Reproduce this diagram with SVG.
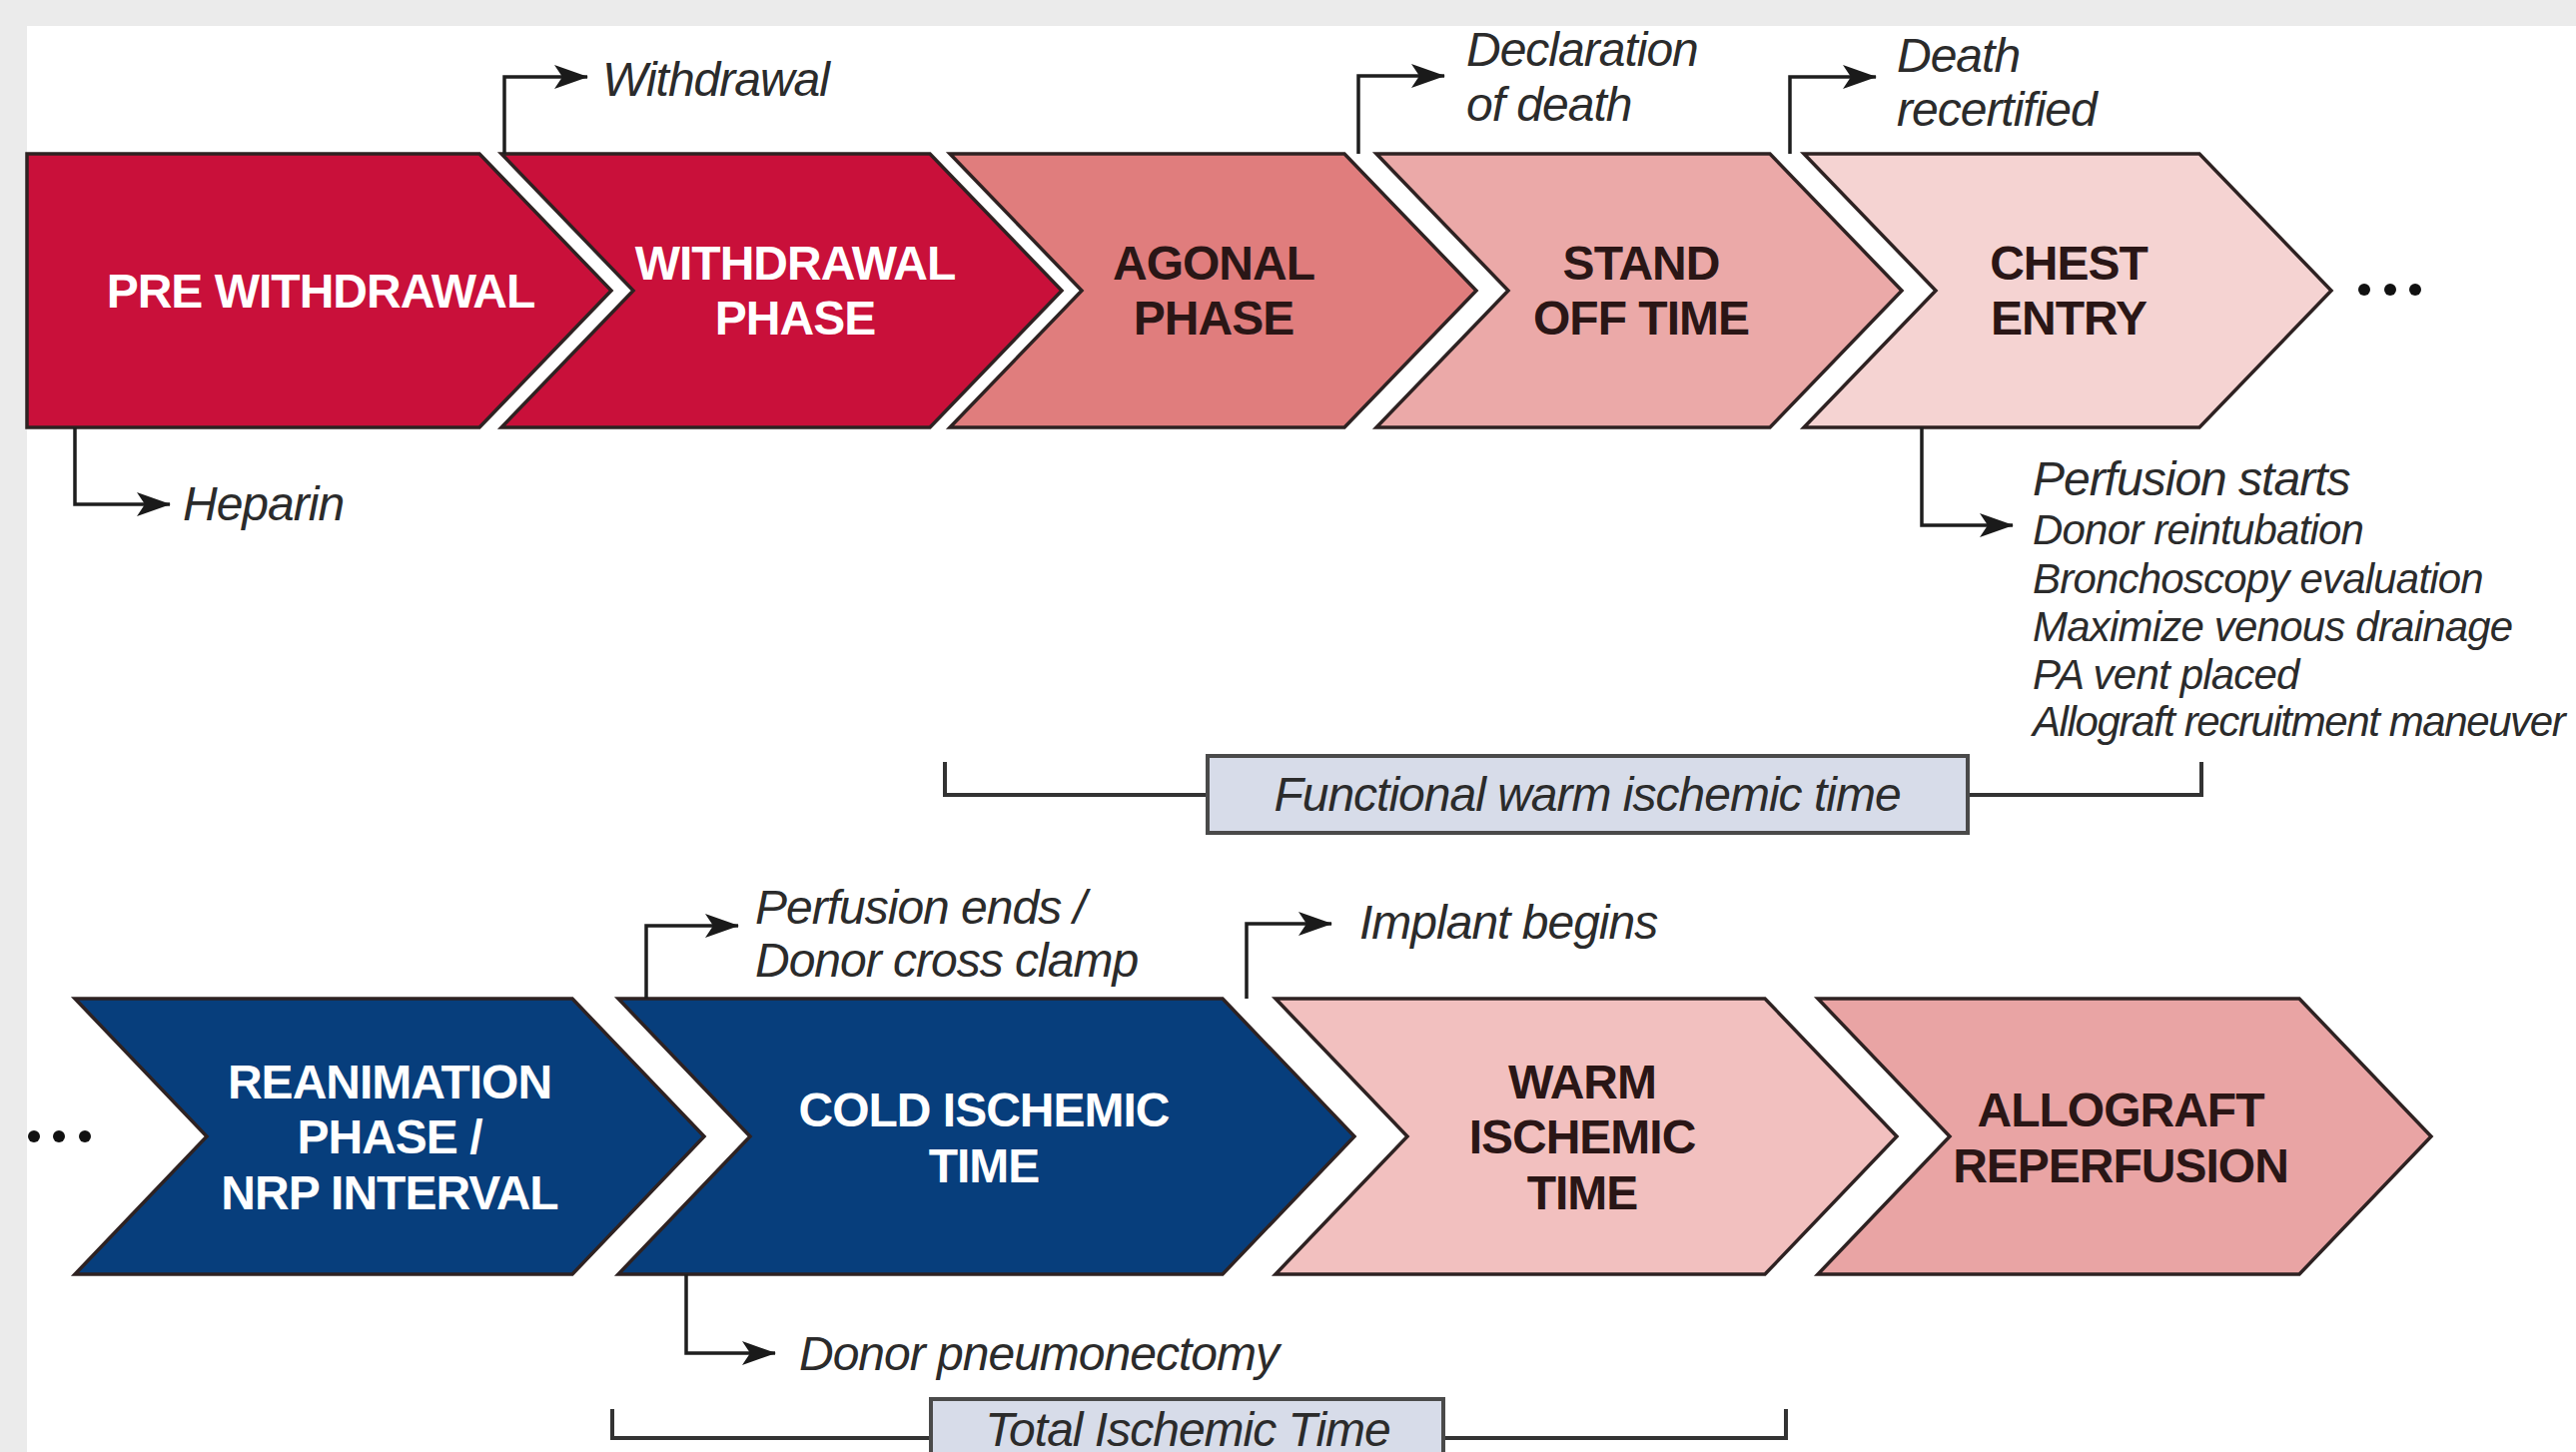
<svg xmlns="http://www.w3.org/2000/svg" width="2579" height="1454" viewBox="0 0 2579 1454">
<defs>
<marker id="arr" viewBox="0 0 34 24" refX="33" refY="12" markerWidth="34" markerHeight="24" markerUnits="userSpaceOnUse" orient="auto">
<path d="M0,0 L34,12 L0,24 L8,12 Z" fill="#1a1a1a"/>
</marker>
<style>
.chev{stroke:#2e2222;stroke-width:3.5;stroke-linejoin:miter}
.red{fill:#c9103a}
.navy{fill:#073e7c}
.c1{fill:#e07d7d}
.c2{fill:#eba9a8}
.c3{fill:#f5d3d2}
.c4{fill:#f2c0bf}
.c5{fill:#e9a4a4}
.lbl{font-family:"Liberation Sans",Arial,sans-serif;font-weight:bold;font-size:48px;letter-spacing:-1px;text-anchor:middle}
.w{fill:#ffffff}
.d{fill:#2a1616}
.it{font-family:"Liberation Sans",Arial,sans-serif;font-style:italic;font-size:48px;letter-spacing:-1px;fill:#2b2b2b}
.sm{font-size:42px;letter-spacing:-0.8px}
.con{fill:none;stroke:#1e1e1e;stroke-width:3.5}
.brk{fill:none;stroke:#333;stroke-width:4}
.box{fill:#d7dce9;stroke:#4a4a4a;stroke-width:4}
.dot{fill:#111}
</style>
</defs>
<rect x="0" y="0" width="2579" height="1454" fill="#ebebeb"/>
<rect x="27" y="26" width="2552" height="1428" fill="#ffffff"/>

<g id="pre-withdrawal">
<path class="chev red" d="M27,154 H480 L612,291 L480,428 H27 Z"/>
<text class="lbl w" x="321" y="308">PRE WITHDRAWAL</text>
</g>
<g id="withdrawal-phase">
<path class="chev red" d="M502,154 H931 L1063,291 L931,428 H502 L634,291 Z"/>
<text class="lbl w" x="796" y="280">WITHDRAWAL</text>
<text class="lbl w" x="796" y="335">PHASE</text>
</g>
<g id="agonal-phase">
<path class="chev c1" d="M951,154 H1346 L1478,291 L1346,428 H951 L1083,291 Z"/>
<text class="lbl d" x="1215" y="280">AGONAL</text>
<text class="lbl d" x="1215" y="335">PHASE</text>
</g>
<g id="stand-off-time">
<path class="chev c2" d="M1378,154 H1772 L1904,291 L1772,428 H1378 L1510,291 Z"/>
<text class="lbl d" x="1643" y="280">STAND</text>
<text class="lbl d" x="1643" y="335">OFF TIME</text>
</g>
<g id="chest-entry">
<path class="chev c3" d="M1806,154 H2202 L2334,291 L2202,428 H1806 L1938,291 Z"/>
<text class="lbl d" x="2071" y="280">CHEST</text>
<text class="lbl d" x="2071" y="335">ENTRY</text>
</g>
<g id="dots-top">
<circle class="dot" cx="2367" cy="290" r="6"/>
<circle class="dot" cx="2393" cy="290" r="6"/>
<circle class="dot" cx="2418" cy="290" r="6"/>
</g>

<g id="reanimation-phase">
<path class="chev navy" d="M75,1000 H573 L705,1138 L573,1276 H75 L207,1138 Z"/>
<text class="lbl w" x="390" y="1100">REANIMATION</text>
<text class="lbl w" x="390" y="1155">PHASE /</text>
<text class="lbl w" x="390" y="1211">NRP INTERVAL</text>
</g>
<g id="cold-ischemic-time">
<path class="chev navy" d="M619,1000 H1224 L1356,1138 L1224,1276 H619 L751,1138 Z"/>
<text class="lbl w" x="985" y="1128">COLD ISCHEMIC</text>
<text class="lbl w" x="985" y="1184">TIME</text>
</g>
<g id="warm-ischemic-time">
<path class="chev c4" d="M1277,1000 H1767 L1899,1138 L1767,1276 H1277 L1409,1138 Z"/>
<text class="lbl d" x="1584" y="1100">WARM</text>
<text class="lbl d" x="1584" y="1155">ISCHEMIC</text>
<text class="lbl d" x="1584" y="1211">TIME</text>
</g>
<g id="allograft-reperfusion">
<path class="chev c5" d="M1820,1000 H2302 L2434,1138 L2302,1276 H1820 L1952,1138 Z"/>
<text class="lbl d" x="2123" y="1128">ALLOGRAFT</text>
<text class="lbl d" x="2123" y="1184">REPERFUSION</text>
</g>
<g id="dots-bottom">
<circle class="dot" cx="34" cy="1138" r="6"/>
<circle class="dot" cx="59" cy="1138" r="6"/>
<circle class="dot" cx="85" cy="1138" r="6"/>
</g>

<g id="connectors">
<path class="con" d="M505,154 V77 H588" marker-end="url(#arr)"/>
<path class="con" d="M75,428 V505 H170" marker-end="url(#arr)"/>
<path class="con" d="M1360,154 V76 H1446" marker-end="url(#arr)"/>
<path class="con" d="M1792,154 V77 H1878" marker-end="url(#arr)"/>
<path class="con" d="M1924,428 V526 H2015" marker-end="url(#arr)"/>
<path class="con" d="M647,1000 V927 H739" marker-end="url(#arr)"/>
<path class="con" d="M1248,1000 V925 H1333" marker-end="url(#arr)"/>
<path class="con" d="M687,1276 V1355 H776" marker-end="url(#arr)"/>
<path class="brk" d="M946,763 V796 H1209 M1970,796 H2204 V763"/>
<path class="brk" d="M613,1411 V1440 H932 M1445,1440 H1788 V1411"/>
</g>

<g id="event-labels">
<text class="it" x="603" y="96">Withdrawal</text>
<text class="it" x="183" y="521">Heparin</text>
<text class="it" x="1468" y="66">Declaration</text>
<text class="it" x="1468" y="121">of death</text>
<text class="it" x="1899" y="72">Death</text>
<text class="it" x="1899" y="126">recertified</text>
<text class="it" x="2035" y="496">Perfusion starts</text>
<text class="it sm" x="2035" y="545">Donor reintubation</text>
<text class="it sm" x="2035" y="594">Bronchoscopy evaluation</text>
<text class="it sm" x="2035" y="642">Maximize venous drainage</text>
<text class="it sm" x="2035" y="690">PA vent placed</text>
<text class="it sm" x="2035" y="737" style="letter-spacing:-1.4px">Allograft recruitment maneuver</text>
<text class="it" x="756" y="925">Perfusion ends /</text>
<text class="it" x="756" y="978">Donor cross clamp</text>
<text class="it" x="1361" y="940">Implant begins</text>
<text class="it" x="800" y="1372">Donor pneumonectomy</text>
</g>

<g id="functional-warm-ischemic-time">
<rect class="box" x="1209" y="757" width="761" height="77"/>
<text class="it" x="1589" y="812" text-anchor="middle">Functional warm ischemic time</text>
</g>
<g id="total-ischemic-time">
<rect class="box" x="932" y="1401" width="513" height="70"/>
<text class="it" x="1189" y="1448" text-anchor="middle">Total Ischemic Time</text>
</g>
</svg>
